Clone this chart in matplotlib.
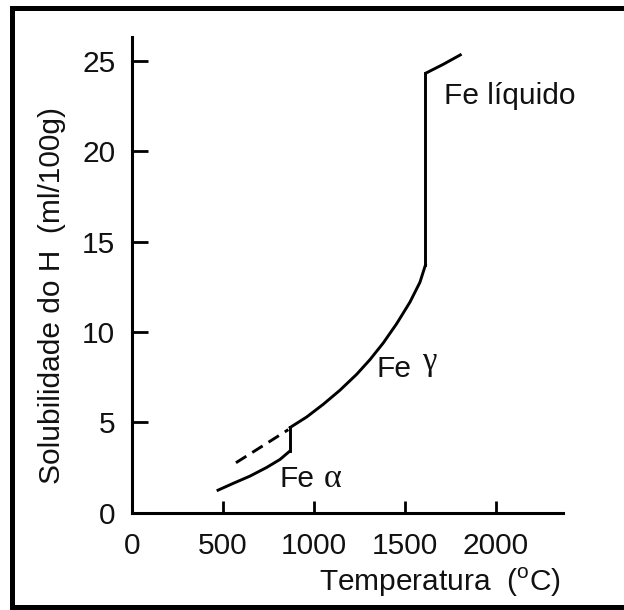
import matplotlib
matplotlib.use("Agg")
import matplotlib.pyplot as plt
from matplotlib.lines import Line2D

plt.rcParams['font.family'] = ['Liberation Sans', 'DejaVu Sans']
plt.rcParams['mathtext.fontset'] = 'custom'
plt.rcParams['mathtext.rm'] = 'Liberation Sans'

# Solubility of H in iron
alpha_temp = [466, 557, 649, 741, 814, 870]
alpha_sol = [1.22, 1.63, 2.03, 2.51, 2.95, 3.43]

alpha_jump_temp = [870, 870]
alpha_jump_sol = [3.43, 4.72]

dashed_temp = [572, 722, 860]
dashed_sol = [2.77, 3.72, 4.6]

gamma_temp = [870, 961, 1052, 1144, 1236, 1309, 1382, 1456, 1529, 1584, 1614]
gamma_sol = [4.72, 5.30, 6.0, 6.78, 7.66, 8.47, 9.39, 10.46, 11.65, 12.75, 13.7]

melt_temp = [1614, 1614]
melt_sol = [13.7, 24.3]

liquid_temp = [1614, 1712, 1813]
liquid_sol = [24.3, 24.8, 25.36]

x_ticks = [0, 500, 1000, 1500, 2000]
y_ticks = [0, 5, 10, 15, 20, 25]

fs = 21.5
lw = 2.1

fig = plt.figure(figsize=(6.24, 6.10), dpi=100)
ax = fig.add_axes([0.2115, 0.1593, 0.6905, 0.7797])

ax.plot(alpha_temp, alpha_sol, color='black', lw=lw, solid_capstyle='butt',
        solid_joinstyle='round')
ax.plot(alpha_jump_temp, alpha_jump_sol, color='black', lw=lw)
ax.plot(dashed_temp, dashed_sol, color='black', lw=lw, linestyle=(0, (4.2, 2.4)))
ax.plot(gamma_temp, gamma_sol, color='black', lw=lw, solid_joinstyle='round')
ax.plot(melt_temp, melt_sol, color='black', lw=lw)
ax.plot(liquid_temp, liquid_sol, color='black', lw=lw, solid_capstyle='butt',
        solid_joinstyle='round')

# phase labels
ax.text(814, 1.42, 'Fe', fontsize=fs, va='baseline', color='#111111')
ax.text(1056, 1.42, 'α', fontsize=fs + 3, va='baseline', color='#111111',
        family='Liberation Serif')
ax.text(1346, 7.51, 'Fe', fontsize=fs, va='baseline', color='#111111')
ax.text(1593, 7.9, 'γ', fontsize=fs + 2, va='baseline', color='#111111',
        family='Liberation Serif')
ax.text(1716, 22.6, 'Fe líquido', fontsize=fs, va='baseline', color='#111111')

ax.set_xlim(0, 2370)
ax.set_ylim(0, 26.3)
ax.set_xticks(x_ticks)
ax.set_yticks(y_ticks)
ax.tick_params(axis='x', direction='in', length=9, width=2, pad=14,
               labelsize=fs, labelcolor='#111111')
ax.tick_params(axis='y', direction='in', length=11.5, width=2, pad=12,
               labelsize=fs, labelcolor='#111111')
for s in ['top', 'right']:
    ax.spines[s].set_visible(False)
for s in ['left', 'bottom']:
    ax.spines[s].set_linewidth(2.2)

# axis titles placed by hand like the original
fig.text(561 / 624, 1 - 582 / 610, 'Temperatura  (' + r'$^{\mathrm{o}}$' + 'C)',
         fontsize=fs, ha='right', va='center', color='#111111')
fig.text(52 / 624, 1 - 295.5 / 610, 'Solubilidade do H  (ml/100g)',
         fontsize=fs, rotation=90, ha='center', va='center', color='#111111')

# black frame (right side is cut off in the original)
left = 11.5 / 624
top = 1 - 7.5 / 610
bottom = 1 - 607 / 610
frame = dict(color='black', lw=3.6, transform=fig.transFigure, solid_capstyle='projecting')
fig.add_artist(Line2D([left, left], [bottom, top], **frame))
fig.add_artist(Line2D([left, 1.01], [top, top], **frame))
fig.add_artist(Line2D([left, 1.01], [bottom, bottom], **frame))

fig.savefig('out.png', dpi=100)
